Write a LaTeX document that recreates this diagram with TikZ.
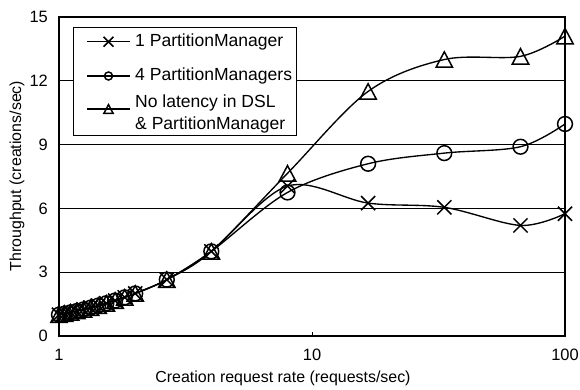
\documentclass[tikz,border=0pt]{standalone}
\usepackage{fontspec}
\setmainfont{Liberation Sans}
\usetikzlibrary{plotmarks}

% open triangle marker, base as wide as it is tall
\pgfdeclareplotmark{tri}{%
  \pgfpathmoveto{\pgfqpoint{0pt}{0.94\pgfplotmarksize}}%
  \pgfpathlineto{\pgfqpoint{-\pgfplotmarksize}{-0.94\pgfplotmarksize}}%
  \pgfpathlineto{\pgfqpoint{\pgfplotmarksize}{-0.94\pgfplotmarksize}}%
  \pgfpathclose
  \pgfusepathqstroke}

\begin{document}
\begin{tikzpicture}[x=1bp,y=1bp,
  frame/.style={draw=black, line width=1.3bp},
  gridline/.style={draw=black, line width=0.9bp},
  curve/.style={draw=black, line width=1.35bp, smooth, tension=0.55},
  ticklabel/.style={font=\fontsize{16.5}{18}\selectfont, inner sep=0pt},
  axislabel/.style={font=\fontsize{16}{18}\selectfont, inner sep=0pt},
  legendtext/.style={font=\fontsize{17.6}{22}\selectfont, inner sep=0pt, anchor=west, align=left},
  mkcross/.style={mark=x, mark size=#1, mark options={line width=1.5bp, solid}},
  mkcircle/.style={mark=o, mark size=#1, mark options={draw=black, line width=1.5bp}},
  mktri/.style={mark=tri, mark size=#1, mark options={draw=black, line width=1.5bp, line join=miter}},
]
\useasboundingbox (0,0) rectangle (580,389);

% ---- plot area: x is log10-scaled in bp, y in throughput units ----
\begin{scope}[shift={(0,53)}, y=21.267bp]
  \foreach \v in {3,6,9,12} \draw[gridline] (59,\v) -- (565,\v);
  \draw[frame] (59,0) rectangle (565,15);
  \draw[line width=1bp] (312,0) -- (312,0.2);

  % 1 PartitionManager
  \draw[curve, mkcross=10bp] plot coordinates {
    (59,1) (64.6,1.053) (70.6,1.111) (76.9,1.176) (83.5,1.25) (90.6,1.333)
    (98.2,1.429) (106.3,1.538) (115.1,1.667) (124.7,1.818) (135.2,2.0)
    (166.8,2.65) (211.3,3.98) (287.5,7.05) (368.1,6.25) (444.3,6.05)
    (520.5,5.2) (565,5.75)};
  % 4 PartitionManagers
  \draw[curve, mkcircle=7.4bp] plot coordinates {
    (59,1) (64.6,1.053) (70.6,1.111) (76.9,1.176) (83.5,1.25) (90.6,1.333)
    (98.2,1.429) (106.3,1.538) (115.1,1.667) (124.7,1.818) (135.2,2.0)
    (166.8,2.65) (211.3,3.98) (287.5,6.75) (368.1,8.1) (444.3,8.6)
    (520.5,8.9) (565,9.97)};
  % no latency in DSL and PartitionManager
  \draw[curve, mktri=8.2bp] plot coordinates {
    (59,1) (64.6,1.053) (70.6,1.111) (76.9,1.176) (83.5,1.25) (90.6,1.333)
    (98.2,1.429) (106.3,1.538) (115.1,1.667) (124.7,1.818) (135.2,2.0)
    (166.8,2.65) (211.3,3.98) (287.5,7.65) (368.1,11.5) (444.3,13.0)
    (520.5,13.15) (565,14.1)};
\end{scope}

% ---- legend ----
\node[draw=black, line width=1bp, fill=white, minimum width=223.6bp, minimum height=108.6bp,
      inner sep=0pt, anchor=south west] (legend) at (72.7,252.7) {};
\coordinate (l1a) at (87,347.3);  \coordinate (l1b) at (130,347.3);
\coordinate (l2a) at (87,313);    \coordinate (l2b) at (130,313);
\coordinate (l3a) at (87,280);    \coordinate (l3b) at (130,280);
\draw[line width=1.3bp] (l1a) -- (l1b);
\draw[line width=1.3bp] (l2a) -- (l2b);
\draw[line width=1.3bp] (l3a) -- (l3b);
\path[mkcross=7bp] plot coordinates {(108.5,347.3)};
\path[mkcircle=4bp] plot coordinates {(108.5,313)};
\path[mktri=4.6bp] plot coordinates {(108.5,280)};
\node[legendtext] (t1) at (135,347.3) {1 PartitionManager};
\node[legendtext] (t2) at (135,313) {4 PartitionManagers};
\node[legendtext] (t3) at (135,275) {No latency in DSL\\\& PartitionManager};

% ---- axis labels ----
\foreach \v [count=\i] in {0,3,6,9,12,15}
  \node[ticklabel, anchor=east] (yt\i) at (48,{53+21.267*\v}) {\v};
\node[ticklabel] (xt1) at (59,34) {1};
\node[ticklabel] (xt2) at (312,34) {10};
\node[ticklabel] (xt3) at (565,34) {100};
\node[axislabel] (xlab) at (283,11) {Creation request rate (requests/sec)};
\node[axislabel, rotate=90] (ylab) at (17,213) {Throughput (creations/sec)};
\end{tikzpicture}
\end{document}
